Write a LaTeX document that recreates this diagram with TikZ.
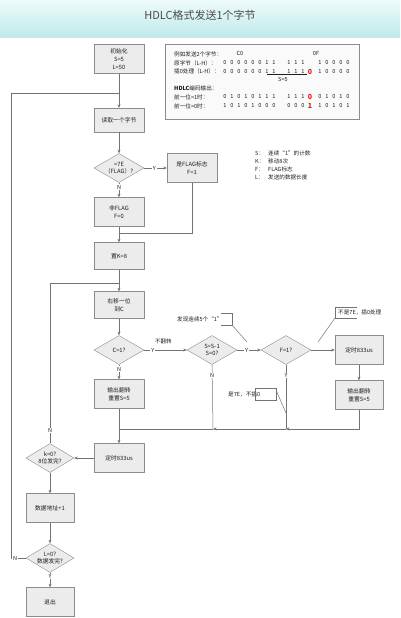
\documentclass[tikz,border=0pt]{standalone}
\usepackage{fontspec}
\setmainfont{Noto Sans CJK SC}
\usetikzlibrary{shapes.geometric,arrows.meta,shadows}

\definecolor{linegray}{RGB}{115,115,115}
\definecolor{boxedge}{RGB}{140,140,140}
\definecolor{boxfill}{RGB}{236,236,236}
\definecolor{ttop}{RGB}{238,251,251}
\definecolor{tbot}{RGB}{190,233,233}
\definecolor{txt}{RGB}{30,30,30}
\definecolor{hlred}{RGB}{222,30,30}

\newcommand{\bits}[3]{\foreach \b [count=\i from 0] in {#3} \node[bit] at (#1+7*\i,#2) {\b};}

\begin{document}
\begin{tikzpicture}[x=1pt,y=-1pt,
	line/.style={draw=linegray, line width=0.5pt},
	arr/.style={line, -{Stealth[length=3.5pt,width=3pt]}},
	box/.style={draw=boxedge, fill=boxfill, minimum width=50pt, minimum height=29pt, inner sep=1pt, align=center, text=txt, font=\fontsize{5.8}{8}\selectfont, drop shadow={shadow xshift=0.8pt, shadow yshift=-0.8pt, opacity=0.25}},
	dia/.style={diamond, draw=boxedge, fill=boxfill, minimum width=50pt, minimum height=29pt, inner sep=0pt},
	dlbl/.style={align=center, text=txt, font=\fontsize{5.8}{7.5}\selectfont, inner sep=0pt},
	yn/.style={font=\fontsize{5.5}{6}\selectfont, text=txt, inner sep=0.8pt},
	note/.style={font=\fontsize{5.6}{6.5}\selectfont, text=txt, inner sep=0pt, anchor=west},
	bit/.style={font=\fontsize{5.6}{6}\selectfont, text=txt, inner sep=0pt},
	redbit/.style={font=\fontsize{7}{7}\bfseries, text=hlred, inner sep=0pt}]
\useasboundingbox (0,0) rectangle (400,618);

% title bar
\shade[top color=ttop, bottom color=tbot] (0,0) rectangle (400,38);
\node (title) at (200,15) [font=\fontsize{11}{12}\selectfont, text=txt!80] {HDLC格式发送1个字节};

% example box
\node (ex) at (262,81.5) [draw=boxedge, fill=gray!4, minimum width=194pt, minimum height=75pt, drop shadow={shadow xshift=1pt, shadow yshift=-1pt, opacity=0.3}] {};
\node[note] (ex1) at (174,54) {例如发送2个字节：};
\node[bit] (c0) at (240,53) {C0};
\node[bit] (f0) at (316,53) {0F};
\node[note] (ex2) at (174,63) {原字节（L-H）：};
\node[note] (ex3) at (174,71.5) {插0处理（L-H）：};
\node[note] (ex4) at (174,88) {\textbf{HDLC}编码输出：};
\node[note] (ex5) at (174,97) {前一位=1时：};
\node[note] (ex6) at (174,106) {前一位=0时：};
\bits{225}{63}{0,0,0,0,0,0,1,1} \bits{289}{63}{1,1,1} \bits{320}{63}{1,0,0,0,0}
\bits{225}{71.5}{0,0,0,0,0,0,1,1} \bits{289}{71.5}{1,1,1} \bits{320}{71.5}{1,0,0,0,0}
\node[redbit] at (310,71.5) {0};
\draw[line, draw=txt] (267,74.5) -- (307,74.5);
\node[bit] (s5) at (283,79.5) {S=5};
\bits{225}{97}{0,1,0,1,0,1,1,1} \bits{289}{97}{1,1,1} \bits{320}{97}{0,1,0,1,0}
\node[redbit] at (310,97) {0};
\bits{225}{106}{1,0,1,0,1,0,0,0} \bits{289}{106}{0,0,0} \bits{320}{106}{1,0,1,0,1}
\node[redbit] at (310,106) {1};

% legend
\foreach \k/\t [count=\i from 0] in {S/连续“1”的计数, K/移动8次, F/FLAG标志, L/发送的数据长度}{
	\node[note] at (255,153+8*\i) {\k：};
	\node[note] at (268,153+8*\i) {\t};
}

% flow
\node[box] (init) at (119,59) {初始化\\S=5\\L=50};
\node[box, minimum height=24pt] (read) at (119,120) {读取一个字节};
\node[dia, label={[dlbl]center:{=7E\\（FLAG）?}}] (isflag) at (119,168) {};
\node[box] (flagy) at (192,168) {是FLAG标志\\F=1};
\node[box] (flagn) at (119,212) {非FLAG\\F=0};
\node[box, minimum height=27pt] (setk) at (119,256) {置K=8};
\node[box, minimum height=27pt] (shift) at (119,305) {右移一位\\到C};
\node[dia, label={[dlbl]center:C=1?}] (isc) at (119,350) {};
\node[box] (out1) at (119,394) {输出翻转\\重置S=5};
\node[dia, label={[dlbl]center:{S=S-1\\S=0?}}] (iss) at (212,350) {};
\node[dia, label={[dlbl]center:F=1?}] (isf) at (286,350) {};
\node[box, minimum width=48pt] (tmr2) at (359,350) {定时833us};
\node[box, minimum width=48pt] (out2) at (359,395) {输出翻转\\重置S=5};
\node[box] (tmr1) at (119,458) {定时833us};
\node[dia, minimum width=48pt, label={[dlbl]center:{k=0?\\8位发完?}}] (isk) at (50,458) {};
\node[box, minimum width=48pt] (addr) at (50,508) {数据地址+1};
\node[dia, minimum width=48pt, label={[dlbl]center:{L=0?\\数据发完?}}] (isl) at (50,558) {};
\node[box, minimum width=48pt] (quit) at (50,602) {退出};

% junctions
\coordinate (jread) at (119,93);
\coordinate (jsetk) at (119,233);
\coordinate (jshift) at (119,283);
\coordinate (jout) at (119,429);
\coordinate (js) at (213,429);
\coordinate (jf) at (286,429);

% connectors
\draw[arr] (init) -- (read);
\draw[arr] (read) -- (isflag);
\draw[arr] (isflag.east) -- node[yn, fill=white, pos=0.45] {Y} (flagy.west);
\draw[arr] (isflag.south) -- node[yn, fill=white, pos=0.3] {N} (flagn.north);
\draw[line] (flagy.south) |- (jsetk);
\draw[arr] (flagn) -- (setk);
\draw[arr] (setk) -- (shift);
\draw[arr] (shift) -- (isc);
\draw[arr] (isc.east) -- node[yn, fill=white, pos=0.2] {Y} node[yn, pos=0.45, yshift=9pt] {不翻转} (iss.west);
\draw[arr] (isc.south) -- node[yn, fill=white, pos=0.3] {N} (out1.north);
\draw[arr] (iss.east) -- node[yn, fill=white, pos=0.4] {Y} (isf.west);
\draw[line] (iss.south) -- node[yn, fill=white, pos=0.17] {N} (js);
\draw[arr] (isf.east) -- (tmr2.west);
\draw[line] (isf.south) -- node[yn, fill=white, pos=0.17] {Y} (jf);
\draw[arr] (tmr2) -- (out2);
\draw[arr] (out2.south) |- (jf);
\draw[arr] (jf) -- (js);
\draw[line] (js) -- (jout);
\draw[arr] (out1) -- (tmr1);
\draw[arr] (tmr1.west) -- (isk.east);
\draw[line] (isk.north) -- node[yn, fill=white, pos=0.08] {N} (isk.north |- jshift) -- (jshift);
\draw[arr] (isk) -- (addr);
\draw[arr] (addr) -- (isl);
\draw[arr] (isl.south) -- node[yn, fill=white, pos=0.25] {Y} (quit.north);
\draw[line] (isl.west) -- node[yn, fill=white, pos=0.72] {N} (11,558) |- (jread);

% callouts
\node[note] (ones) at (177,319) {发现连续5个“1”};
\draw[line] (221,313) -- (232,313) -- (232,325) -- (221,325);
\coordinate (onesend) at (247,342);
\draw[line] (232,325) -- (onesend);
\node[note] (not7e) at (338,312.5) {不是7E，插0处理};
\draw[line] (357,307) -- (335,307) -- (335,318) -- (357,318);
\coordinate (not7eend) at (318,342);
\draw[line] (335,318) -- (not7eend);
\node[note] (is7e) at (228,394.5) {是7E，不插0};
\draw[line] (255,388) rectangle (276,400);
\coordinate (is7eend) at (286,413);
\draw[line] (276,390) -- (is7eend);
\end{tikzpicture}
\end{document}
